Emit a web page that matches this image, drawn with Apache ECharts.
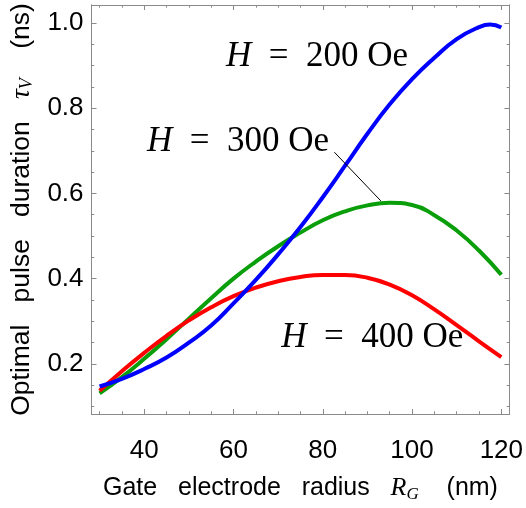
<!DOCTYPE html>
<html>
<head>
<meta charset="utf-8">
<script src="https://cdn.jsdelivr.net/npm/echarts@6/dist/echarts.min.js"></script>
<style>html,body{margin:0;padding:0;background:#fff}#c{width:526px;height:508px}</style>
</head>
<body>
<div id="c"></div>
<script>
// ---- data ----
const radius = [30, 35, 40, 45, 50, 55, 60, 65, 70, 75, 80, 85, 90, 95, 100, 105, 110, 115, 120];
const radius200 = [30, 35, 40, 45, 50, 55, 60, 65, 70, 75, 80, 85, 90, 95, 100, 105, 110, 115, 117.5, 120];
const tau200 = [0.147, 0.165, 0.188, 0.215, 0.250, 0.290, 0.342, 0.397, 0.457, 0.521, 0.591, 0.665, 0.740, 0.809, 0.868, 0.918, 0.962, 0.990, 0.996, 0.989];
const tau300 = [0.131, 0.169, 0.212, 0.258, 0.306, 0.354, 0.400, 0.440, 0.476, 0.508, 0.537, 0.558, 0.572, 0.578, 0.573, 0.549, 0.513, 0.466, 0.409];
const tau400 = [0.137, 0.183, 0.226, 0.266, 0.302, 0.333, 0.359, 0.379, 0.394, 0.404, 0.4088, 0.4085, 0.402, 0.386, 0.361, 0.328, 0.291, 0.253, 0.216];
const xMajor = [40, 60, 80, 100, 120];
const xMinor = [30, 35, 45, 50, 55, 65, 70, 75, 85, 90, 95, 105, 110, 115];
const yMajor = [0.2, 0.4, 0.6, 0.8, 1.0];
const yMinor = [0.1, 0.15, 0.25, 0.3, 0.35, 0.45, 0.5, 0.55, 0.65, 0.7, 0.75, 0.85, 0.9, 0.95];
const fieldLabels = ['200', '300', '400'];
const labelAt = [[78.7, 0.920], [61.0, 0.722], [91.1, 0.262]];
const leader300 = [[82.6, 0.6967], [93.0, 0.5825]];

const X_MIN = 28.2, X_MAX = 121.8, Y_MIN = 0.0825, Y_MAX = 1.042;
const frame = '#8a8a8a';
const sans = 'Liberation Sans, Arial, sans-serif';
const serif = 'Liberation Serif, Times New Roman, serif';

function pairs(xs, ys) { return xs.map((x, i) => [x, ys[i]]); }

function xAx(pos, vals, len, showLabel) {
  return {
    type: 'value', position: pos, min: X_MIN, max: X_MAX,
    axisLine: { show: true, onZero: false, lineStyle: { color: frame, width: 1 } },
    axisTick: { show: true, inside: true, length: len, customValues: vals, lineStyle: { color: frame } },
    axisLabel: showLabel ? { show: true, customValues: xMajor, color: '#000', fontFamily: sans, fontSize: 26, margin: 24 } : { show: false },
    splitLine: { show: false }
  };
}
function yAx(pos, vals, len, showLabel) {
  return {
    type: 'value', position: pos, min: Y_MIN, max: Y_MAX,
    axisLine: { show: true, onZero: false, lineStyle: { color: frame, width: 1 } },
    axisTick: { show: true, inside: true, length: len, customValues: vals, lineStyle: { color: frame } },
    axisLabel: showLabel ? { show: true, customValues: yMajor, color: '#000', fontFamily: sans, fontSize: 26, margin: 8,
      formatter: v => v.toFixed(1) } : { show: false },
    splitLine: { show: false }
  };
}

function richTitle(size) {
  return {
    it: { fontFamily: serif, fontStyle: 'italic', fontSize: size + 1, color: '#000' },
    sub: { fontFamily: serif, fontStyle: 'italic', fontSize: Math.round(size * 0.68), color: '#000', verticalAlign: 'bottom', padding: [12, 0, 0, 0] }
  };
}
const xMain = xAx('bottom', xMajor, 5, true);
xMain.name = 'Gate   electrode   radius   {it|R}{sub|G}    (nm)';
xMain.nameLocation = 'middle';
xMain.nameGap = 60;
xMain.nameTextStyle = { color: '#000', fontFamily: sans, fontSize: 25, rich: richTitle(25) };
const yMain = yAx('left', yMajor, 5, true);
yMain.name = 'Optimal   pulse   duration   {it|τ}{sub|V}    (ns)';
yMain.nameLocation = 'middle';
yMain.nameGap = 51;
yMain.nameTextStyle = { color: '#000', fontFamily: sans, fontSize: 26.5, rich: richTitle(26.5) };

function line(name, data, color, extra) {
  return Object.assign({
    type: 'line', name: name, data: data, smooth: 0.5, symbol: 'none',
    lineStyle: { color: color, width: 4 }, itemStyle: { color: color },
    silent: true, z: 3
  }, extra || {});
}

const option = {
  animation: false,
  backgroundColor: '#fff',
  grid: { left: 91, right: 15, top: 5, bottom: 82 },
  xAxis: [xMain, xAx('bottom', xMinor, 2.7, false), xAx('top', xMajor, 5, false), xAx('top', xMinor, 2.7, false)],
  yAxis: [yMain, yAx('left', yMinor, 2.7, false), yAx('right', yMajor, 5, false), yAx('right', yMinor, 2.7, false)],
  series: [
    line('H = 300 Oe', pairs(radius, tau300), '#0a9e0a', {
      markLine: { silent: true, symbol: ['none', 'none'], label: { show: false },
        lineStyle: { color: '#000', width: 1, type: 'solid' },
        data: [[{ coord: leader300[0] }, { coord: leader300[1] }]] }
    }),
    line('H = 400 Oe', pairs(radius, tau400), '#ff0000'),
    line('H = 200 Oe', pairs(radius200, tau200), '#0000ff')
  ]
};

const chart = echarts.init(document.getElementById('c'), null, { renderer: 'canvas' });
chart.setOption(option);

const graphics = fieldLabels.map((f, i) => {
  const p = chart.convertToPixel({ xAxisIndex: 0, yAxisIndex: 0 }, labelAt[i]);
  return {
    type: 'text', x: p[0], y: p[1], z: 10, silent: true,
    style: {
      text: '{h|H}  =  ' + f + ' Oe',
      fill: '#000', fontFamily: serif, fontSize: 35,
      align: 'center', verticalAlign: 'middle',
      rich: { h: { fontFamily: serif, fontStyle: 'italic', fontSize: 35, fill: '#000', color: '#000' } }
    }
  };
});
chart.setOption({ graphic: graphics });
</script>
</body>
</html>
